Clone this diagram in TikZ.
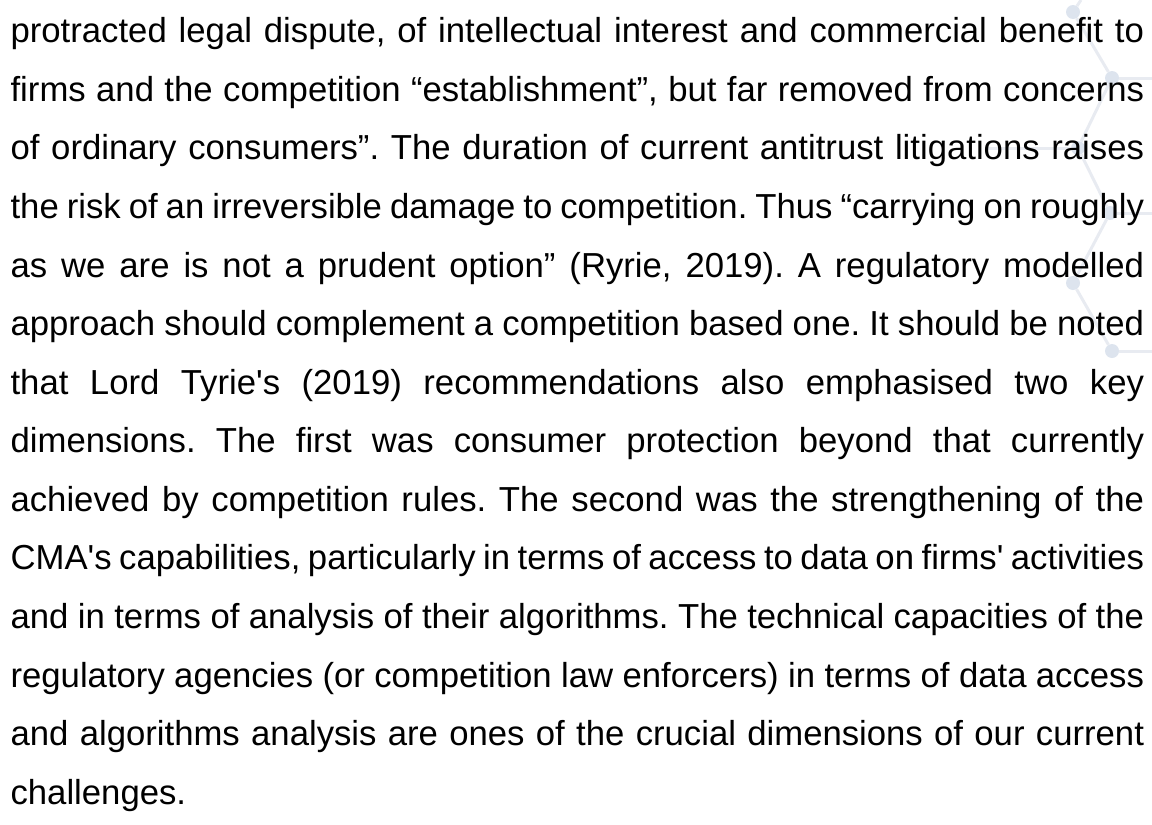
\documentclass[tikz,border=0pt]{standalone}
\usepackage{fontspec}
\usepackage{tikz}
\newfontfamily\bodyfont{Liberation Sans}
\definecolor{netline}{HTML}{E8EBF1}
\definecolor{netdot}{HTML}{DDE4EE}
\newcommand{\fullline}[1]{\makebox[1133.5pt][s]{#1}}
\frenchspacing

\begin{document}
\begin{tikzpicture}
[x=1pt,y=-1pt,
 dot/.style={circle,fill=netdot,inner sep=0pt,minimum size=14pt},
 txt/.style={anchor=base west,inner sep=0pt,font=\bodyfont\fontsize{34.7}{58.6}\selectfont}]
\useasboundingbox (0,0) rectangle (1152,825);
\node[dot] (p1) at (1073,12) {};
\node[dot] (p2) at (1112,78) {};
\node[dot] (p3) at (1078,148) {};
\node[dot] (p4) at (1110,213) {};
\node[dot] (p5) at (1073,283) {};
\node[dot] (p6) at (1112,351) {};
\coordinate (t0) at (1081,0);
\coordinate (r2) at (1152,78);
\coordinate (w3) at (985,148);
\coordinate (r4) at (1152,213);
\coordinate (r6) at (1152,351);
\foreach \from/\to in {t0/p1,p1/p2,p2/r2,p2/p3,p3/w3,p3/p4,p4/r4,p4/p5,p5/p6,p6/r6}
\draw[netline,line width=3pt] (\from) -- (\to);
\node[txt] (l1) at (10.4,42.6) {\fullline{protracted legal dispute, of intellectual interest and commercial benefit to}};
\node[txt] (l2) at (10.4,101.2) {\fullline{firms and the competition “establishment”, but far removed from concerns}};
\node[txt] (l3) at (10.4,159.8) {\fullline{of ordinary consumers”. The duration of current antitrust litigations raises}};
\node[txt] (l4) at (10.4,218.4) {\fullline{the risk of an irreversible damage to competition. Thus “carrying on roughly}};
\node[txt] (l5) at (10.4,277.0) {\fullline{as we are is not a prudent option” (Ryrie, 2019). A regulatory modelled}};
\node[txt] (l6) at (10.4,335.6) {\fullline{approach should complement a competition based one. It should be noted}};
\node[txt] (l7) at (10.4,394.1) {\fullline{that Lord Tyrie's (2019) recommendations also emphasised two key}};
\node[txt] (l8) at (10.4,452.7) {\fullline{dimensions. The first was consumer protection beyond that currently}};
\node[txt] (l9) at (10.4,511.3) {\fullline{achieved by competition rules. The second was the strengthening of the}};
\node[txt] (l10) at (10.4,569.9) {\fullline{CMA's capabilities, particularly in terms of access to data on firms' activities}};
\node[txt] (l11) at (10.4,628.5) {\fullline{and in terms of analysis of their algorithms. The technical capacities of the}};
\node[txt] (l12) at (10.4,687.1) {\fullline{regulatory agencies (or competition law enforcers) in terms of data access}};
\node[txt] (l13) at (10.4,745.7) {\fullline{and algorithms analysis are ones of the crucial dimensions of our current}};
\node[txt] (l14) at (10.4,804.3) {challenges.};
\end{tikzpicture}
\end{document}
